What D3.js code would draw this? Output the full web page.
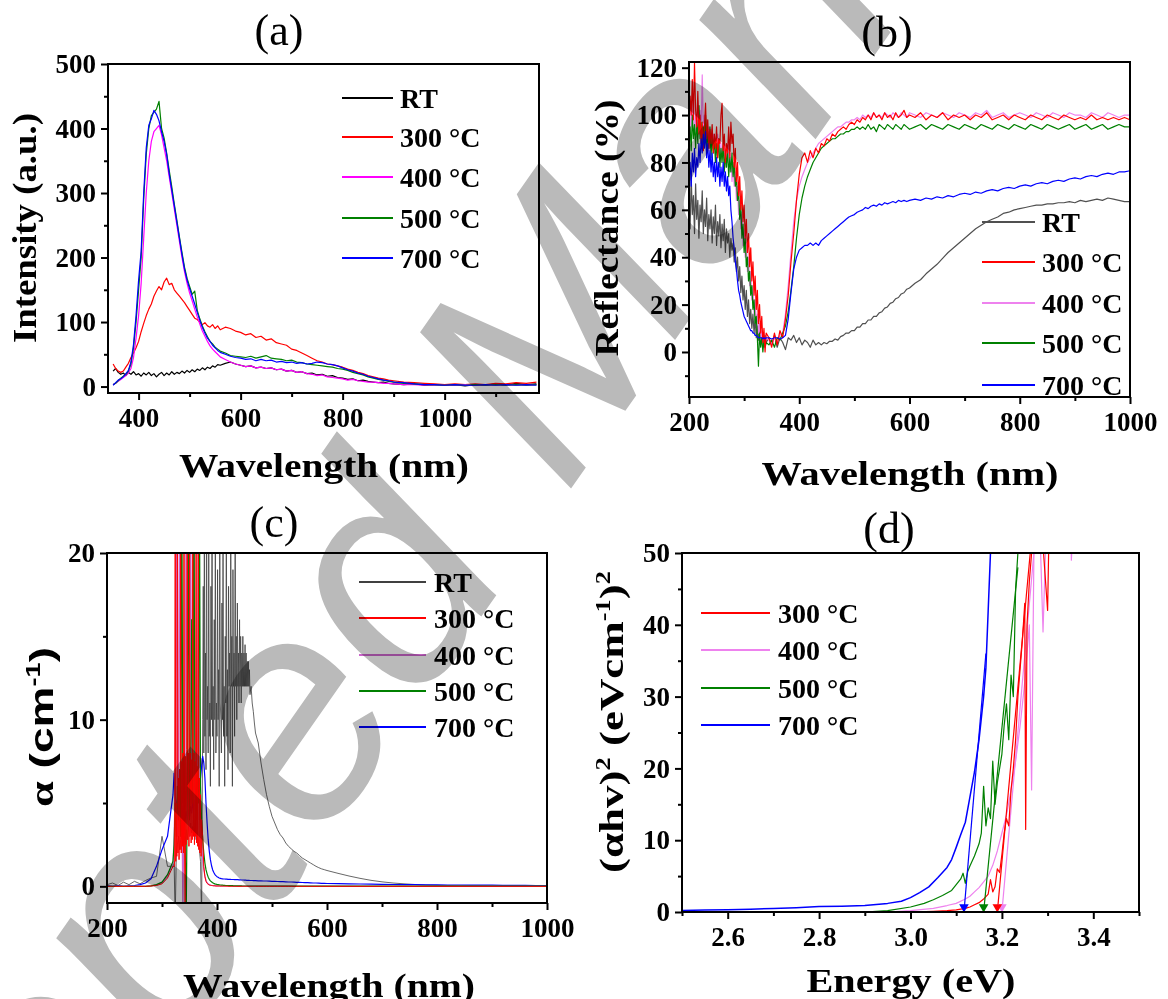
<!DOCTYPE html>
<html><head><meta charset="utf-8">
<script src="https://cdn.jsdelivr.net/npm/d3@7"></script>
<style>html,body{margin:0;padding:0;background:#fff}svg{display:block}</style>
</head><body>
<svg id="chart" width="1168" height="999"></svg>
<script>
// ---------------- DATA ----------------
const seriesNames = ["RT", "300 °C", "400 °C", "500 °C", "700 °C"];

// (a) photoluminescence
const wlA = [350,355,360,365,370,375,380,385,390,395,400,405,410,415,420,425,430,435,440,445,450,455,460,465,470,475,480,485,490,495,500,505,510,515,520,525,530,535,540,545,550,555,560,
570,580,590,600,610,620,630,640,650,660,670,680,690,700,710,720,730,740,750,760,770,780,790,800,810,820,830,840,850,860,870,880,890,900,
920,940,960,980,1000,1020,1040,1060,1080,1100,1120,1140,1160,1180];
const plRT = [24,28,22,19,21,17,22,19,23,18,20,16,21,18,22,17,20,15,19,22,17,21,18,23,19,22,20,24,21,25,22,26,23,27,25,29,26,30,28,32,30,34,33,
36,38,35,33,31,32,29,30,28,29,26,27,24,25,22,23,20,21,18,19,16,17,14,13,11,12,9,10,8,7,6,7,5,4,
3,4,2,3,2,3,1,3,2,4,2,5,3,4];
const pl300 = [35,28,24,22,24,30,36,45,52,60,70,85,98,110,120,128,140,148,155,150,162,168,158,160,150,145,140,135,130,124,118,112,106,104,100,96,99,94,92,96,90,94,88,
92,90,86,84,80,82,76,78,72,74,68,66,64,58,56,52,48,44,40,38,35,34,32,30,27,25,22,20,17,15,13,12,10,9,
7,6,5,4,3,4,3,4,3,5,4,6,5,7];
const pl400 = [3,5,8,11,14,17,21,28,45,75,110,160,230,300,350,380,395,400,405,390,370,350,325,300,275,250,225,200,178,160,145,133,120,108,97,86,78,70,63,58,54,50,46,
42,38,35,33,31,32,29,30,28,29,26,27,24,25,22,23,20,19,17,18,15,14,13,12,10,11,9,8,7,7,6,5,5,4,
3,3,2,3,2,2,3,2,2,3,2,3,2,3];
const pl500 = [3,5,9,13,16,19,24,35,60,100,150,200,290,360,400,420,425,430,442,400,385,362,335,310,283,258,232,208,185,168,155,143,148,118,105,94,85,77,70,66,61,58,55,
52,48,47,46,45,47,44,46,48,44,43,42,40,41,38,37,35,34,33,32,31,30,28,27,25,22,20,18,15,13,11,10,8,7,
5,4,3,3,2,3,2,3,2,3,2,3,2,3];
const pl700 = [2,6,10,12,15,20,25,38,65,110,165,210,300,370,405,415,428,422,412,395,380,360,330,305,280,255,230,205,182,165,152,140,128,115,103,92,83,75,70,64,60,56,53,
50,47,45,44,42,43,40,42,40,41,38,39,37,38,36,37,35,36,38,37,35,34,32,29,26,24,21,19,16,14,12,10,9,7,
6,4,3,3,2,3,2,2,3,2,3,2,3,2];
const ticksAx = [400,600,800,1000], ticksAxMinor = [500,700,900,1100];
const ticksAy = [0,100,200,300,400,500], ticksAyMinor = [50,150,250,350,450];

// (b) reflectance
const wlB1 = [200,202,204,206,208,210,212,214,216,218,220,222,224,226,228,230,232,234,236,238,240,242,244,246,248,250,252,254,256,258,
260,262,264,266,268,270,272,274,276,278,280,282,284,286,288,290,292,294,296,298,300,302,304,306,308,310,312,314,316,318,320,322,324,326,328,330,332,334,336,338,340];
const wlB2 = [345,350,355,360,365,370,375,380,385,390,395,400,405,410,415,420,425,430,435,440,445,450,455,460,465,470,475,480,485,490,
495,500,505,510,515,520,525,530,535,540,545,550,555,560,565,570,575,580,585,590,595,600];
const wlB3 = [610,620,630,640,650,660,670,680,690,700,710,720,730,740,750,760,770,780,790,800,810,820,830,840,850,860,870,880,890,900,
910,920,930,940,950,960,970,980,990,1000];
const rfRT = [70,52,74,58,66,50,71,56,64,48,62,55,68,50,60,53,65,47,58,52,60,46,57,50,62,45,55,49,58,44,
54,47,56,42,52,46,50,40,48,43,46,38,44,34,40,30,36,25,32,22,28,18,26,15,22,12,18,10,16,8,14,6,11,5,9,4,8,5,2,7,4,
6,3,7,2,6,4,1,6,5,7,4,6,3,5,4,2,5,3,4,3,4,3.5,4.5,4.5,5.5,5,6.5,7,8,8,9,9,10.5,10.5,12,12,13.5,13.5,15,15,16.5,17,18.5,19,20.5,21,22.5,23,24.5,25,26.5,27,
29,30.5,33,35,37,39.5,42,44,46,48,50,52,53.5,55,56,57,58.5,59,60,60.5,61,61.5,62,62,62.5,62.5,63,63,63.5,63,64,63.5,64,64.5,64,65,64.5,64,63.5,63.5];
const rf300 = [95,108,100,115,98,122,102,95,110,92,100,88,97,85,95,105,90,98,86,94,88,96,84,92,86,95,82,90,88,100,
105,85,92,80,88,84,95,82,97,88,92,78,86,72,80,66,74,60,68,55,62,48,56,42,50,36,44,30,38,24,32,18,26,12,20,8,15,4,10,0,8,
6,2,8,3,9,6,14,24,38,50,64,75,82,84,80,85,82,86,84,88,87,90,89,92,91,93,94,95,94,96,97,96,98,97,99,98,100,98,101,99,100,98,101,99,100,98,101,99,100,102,99,100,
99,101,98,100,99,101,98,100,99,100,98,100,99,101,98,99,100,98,100,99,98,100,99,98,100,99,98,100,99,98,99,98,100,98,99,98,99,98,99,98];
const rf400 = [100,92,104,95,108,90,100,94,106,96,102,92,117,95,100,90,98,88,95,85,94,86,92,84,90,82,92,85,90,80,
88,82,90,78,86,80,88,76,84,72,80,70,76,64,70,58,64,52,58,45,52,40,46,34,40,28,34,22,28,16,22,12,16,8,12,5,9,3,7,4,6,
5,3,6,4,7,8,16,28,42,55,64,70,74,77,80,82,84,86,88,89,90,91,92,93,94,95,95,96,97,97,98,98,99,98,100,99,100,99,101,99,100,99,101,100,99,101,100,99,101,100,99,101,
100,99,101,100,99,101,100,99,101,100,99,101,100,102,99,100,101,99,100,101,100,99,101,100,99,101,100,99,101,100,100,99,101,100,99,101,100,99,100,100];
const rf500 = [88,95,85,100,90,96,86,98,88,104,90,97,86,95,88,100,84,93,86,95,82,92,84,90,80,88,82,90,78,86,
80,88,76,84,78,86,74,82,76,84,74,80,70,74,64,68,56,62,48,54,42,48,36,40,30,34,24,28,18,22,12,15,6,-6,8,2,6,0,5,2,4,
3,5,2,6,5,8,11,17,26,36,48,58,65,70,74,77,80,82,84,86,87,88,89,90,90,91,92,92,93,93,94,94,95,94,95,94,96,94,95,93,96,95,94,96,95,94,96,95,94,96,95,94,
95,96,94,96,95,94,96,95,94,96,95,94,96,95,94,96,95,94,96,95,94,96,95,94,96,95,94,95,96,94,95,96,94,95,96,94,95,96,95,95];
const rf700 = [72,80,70,84,76,86,74,82,78,88,80,90,84,92,86,93,82,88,78,85,76,84,74,80,72,82,74,80,70,78,
72,80,70,76,68,74,66,70,60,55,48,44,38,35,30,26,24,21,19,17,15,14,13,12,11,10,9,9,8,8,7,7,6.5,6,6,6,6,5.5,6,5.5,6,
6,5.5,6,6,5.5,6,7,14,25,35,40,43,44,45,45,46,45,46,45,47,48,49,50,51,52,53,54,55,56,57,57.5,58,59,59.5,60,61,60.5,61.5,62,61.5,62.5,62,63,62.5,63,63.5,63,64,63.5,64,63.5,64,
64.5,64,65,64.5,65.5,65,66,65.5,66.5,67,66.5,67.5,67,68,68.5,68,69,69.5,69,70,70.5,70,71,71.5,71,72,72.5,72,73,73.5,73,74,74.5,74,75,75.5,75,76,76,76.5];
const ticksBx = [200,400,600,800,1000], ticksBxMinor = [300,500,700,900];
const ticksBy = [0,20,40,60,80,100,120], ticksByMinor = [-10,10,30,50,70,90,110];

// (c) absorption coefficient
const wlC1 = [200,210,220,230,240,250,260,270,280,290,300,310,320];
const wlC2 = [322,324,326,328,330,332,334,336,338,340,342,344,346,348,350,352,354,356,358,360,362,364,366,368,370,372,374,376,378,380,
382,384,386,388,390,392,394,396,398,400,402,404,406,408,410,412,414,416,418,420,422,424,426,428,430,432,434,436,438,440,
442,444,446,448,450,452,454,456,458,460,462,464,466,468,470];
const wlC2a = [322,324,326,328,330,332,334,336,338,340,342,344,346,348,350,352,354,356,358,360,362,364,366,368,370,372];
const wlCband = [373,374,375,376,377,378,379,380,381,382,383,384,385,386,387,388,389,390,391,392,393,394,395,396,397,398,399,400,401,402,
403,404,405,406,407,408,409,410,411,412,413,414,415,416,417,418,419,420,421,422,423,424,425,426,427,428,429,430,431,432,
433,434,435,436,437,438,439,440,441,442,443,444,445,446,447,448,449,450,451,452,453,454,455,456,457,458,459,460];
const wlC2c = [462,464,466,468,470];
const wlCfine = [323,324,325,326,327,328,329,330,331,332,333,334,335,336,337,338,339,340,341,342,343,344,345,346,347,348,349,350,351,352,
353,354,355,356,357,358,359,360,361,362,363,364,365,366,367,368,369,370,371,372];
const wlC2b = [374,376,378,380,382,384,386,388,390,392,394,396,398,400,402,404,406,408,410,412,414,416,418,420,422,424,426,428,430,432,
434,436,438,440,442,444,446,448,450,452,454,456,458,460,462,464,466,468,470];
const wlC3 = [475,480,485,490,495,500,505,510,515,520,525,530,535,540,545,550,555,560,565,570,575,580,585,590,595,600];
const wlC4 = [620,640,660,680,700,720,740,760,780,800,820,840,860,880,900,920,940,960,980,1000];
const abRT = [0.1,0.2,0.05,0.25,0.1,0.3,0.15,0.35,0.5,0.6,3.0,1.2,1.2,
1.5,-2,2,2.5,3,2.2,2.8,3.2,2.5,3,2.6,3.4,2.8,3.6,3,3.8,3.2,3.6,3,3.4,2.8,3.2,2.6,2.2,1.5,-2,
4,10,18,8,22,9,14,7,24,10,12,8,21,9,11,6,18,10,25,9,12,7,16,10,22,8,11,9,19,10,
13,6,24,11,10,8,17,10,21,9,12,6,15,11,23,9,13,7,18,12,14,8,22,12,15,6,19,12,14,9,
24,12,15,10,17,12,14,11,16,12,15,11,14,12,15,12,14,12,14.5,12,14,12,13.5,12,13.5,12,13,11.5,
12,11,10.5,9.8,9.2,
8.6,7.4,6.4,5.5,4.8,4.2,3.8,3.4,3.1,2.9,2.6,2.4,2.25,2.1,2.0,1.85,1.7,1.6,1.5,1.4,1.3,1.2,1.12,1.05,1.0,0.95,
0.78,0.62,0.48,0.36,0.27,0.2,0.15,0.11,0.08,0.06,0.05,0.04,0.03,0.03,0.02,0.02,0.02,0.01,0.01,0.01];
const ab300 = [0,0,0,0,0,0,0,0,0.02,0.05,0.15,0.5,1.2,
1.2,25,1.5,5,1.8,25,2,6.5,1.6,7,2.2,25,2,7.5,2.4,8,2,25,2.6,-2,7.8,2.5,8.2,25,2.8,8,2.4,25,3,8,
2.6,7.6,2.8,25,3,8,2.5,7.5,3,25,2.6,7.2,2.4,25,2.2,6.5,2,5.5,1.8,4,
3,1.2,0.6,0.3,0.18,0.12,0.08,0.06,0.05,0.04,0.03,0.03,0.02,0.02,0.02,0.02,0.01,0.01,0.01,0.01,0.01,0.01,0.01,0.01,
0,0,0,0,0,0,0,0,0,0,0,0,0,0,0,0,0,0,0,0,0,0,0,0,0,
0,0,0,0,0,0,0,0,0,0,0,0,0,0,0,0,0,0,0,0,0,0,0,0,0,0,
0,0,0,0,0,0,0,0,0,0,0,0,0,0,0,0,0,0,0,0];
const ab400 = [0,0,0,0,0,0,0,0,0.03,0.08,0.2,0.6,1.4,
3,6,25,3,7,25,3,6,-2,5,8,25,4,7,3,25,5,8,25,4,6,3,25,4,5,2.5,1.6,1.0,0.6,0.35,
0.22,0.15,0.1,0.08,0.06,0.05,0.04,0.04,0.03,0.03,0.03,0.02,0.02,0.02,0.02,0.02,0.02,0.02,0.02,0.02,
0.02,0.02,0.02,0.01,0.01,0.01,0.01,0.01,0.01,0.01,0.01,0.01,0.01,0.01,0.01,0.01,0.01,0.01,0.01,0.01,0.01,0.01,0.01,0.01,0.01,
0.01,0.01,0.01,0.01,0.01,0.01,0.01,0.01,0.01,0.01,0.01,0.01,0.01,0,0,0,0,0,0,0,0,0,0,0,0,0,
0,0,0,0,0,0,0,0,0,0,0,0,0,0,0,0,0,0,0,0];
const ab500 = [0,0,0,0,0,0,0,0,0.03,0.1,0.25,0.7,1.5,
2.5,5,3,6,4,7,3,25,5,8,3,-2,6,25,4,7,16,5,25,6,4,7,5,25,6,4,2.8,2,1.4,1,
0.75,0.55,0.42,0.33,0.27,0.22,0.18,0.15,0.13,0.11,0.1,0.09,0.08,0.07,0.07,0.06,0.06,0.05,0.05,0.05,
0.04,0.04,0.04,0.04,0.03,0.03,0.03,0.03,0.03,0.03,0.03,0.03,0.02,0.02,0.02,0.02,0.02,0.02,0.02,0.02,0.02,0.02,0.02,0.02,0.02,
0.02,0.02,0.02,0.02,0.02,0.02,0.02,0.02,0.02,0.02,0.02,0.02,0.02,0.01,0.01,0.01,0.01,0.01,0.01,0.01,0.01,0.01,0.01,0.01,0.01,0.01,
0.01,0.01,0.01,0.01,0.01,0.01,0.01,0.01,0.01,0.01,0.01,0.01,0.01,0.01,0.01,0.01,0.01,0.01,0.01,0.01];
const ab700 = [0.05,0,0.05,0,0.03,0.05,0.1,0.2,0.45,1.2,2.2,3,5.5,
6.8,5.5,4.8,5.2,4.6,5,4.4,4.8,4.2,4.6,4,4.5,4.1,4.6,4.2,4.8,4.4,5,4.6,5.2,5,5.6,5.4,6,6.5,7.2,7.8,7.4,6.5,5,
3.8,2.8,2.1,1.6,1.25,1.0,0.85,0.72,0.64,0.58,0.54,0.5,0.48,0.46,0.45,0.44,0.44,0.43,0.43,0.42,
0.42,0.42,0.41,0.41,0.41,0.4,0.4,0.4,0.4,0.39,0.39,0.38,0.38,0.38,0.37,0.37,0.36,0.36,0.36,0.35,0.35,0.35,0.34,0.34,0.34,
0.33,0.33,0.32,0.32,0.31,0.3,0.3,0.29,0.28,0.28,0.27,0.26,0.26,0.25,0.24,0.24,0.23,0.22,0.22,0.21,0.2,0.2,0.19,0.18,0.18,0.17,
0.16,0.15,0.14,0.13,0.12,0.11,0.1,0.1,0.09,0.09,0.08,0.08,0.07,0.07,0.07,0.06,0.06,0.06,0.05,0.05];
const ticksCx = [200,400,600,800,1000], ticksCxMinor = [300,500,700,900];
const ticksCy = [0,10,20], ticksCyMinor = [5,15];

// (d) Tauc plot
const tcE300 = [3.0,3.05,3.08,3.1,3.12,3.13,3.14,3.15,3.16,3.17,3.175,3.18,3.185,3.19,3.195,3.2,3.205,3.21,3.215,3.22,3.225,3.23,3.235,3.24,3.245,3.25,3.252,3.255,3.26,3.265,3.28,3.3,3.305];
const tcV300 = [0,0.1,0.2,0.3,0.5,0.7,1.0,1.3,1.8,2.5,4.5,2.8,3.5,6,5.5,8,11,13,12,17,20,24,30,34,38,43,11.5,40,46,50,60,42,60];
const tcE400 = [2.95,3.0,3.05,3.08,3.1,3.12,3.13,3.14,3.15,3.16,3.17,3.18,3.19,3.2,3.21,3.22,3.23,3.24,3.25,3.255,3.26,3.265,3.27,3.28,3.29,3.3,3.35,3.352,3.36];
const tcV400 = [0,0.2,0.5,0.9,1.2,1.8,2.2,2.8,3.4,4.2,5.0,6.5,8.5,11,13.5,17,21,26,32,36,40,17,50,60,39,60,60,49,60];
const tcE500 = [2.9,2.95,3.0,3.03,3.05,3.07,3.09,3.1,3.11,3.115,3.12,3.125,3.13,3.14,3.15,3.155,3.16,3.165,3.17,3.175,3.18,3.185,3.19,3.2,3.205,3.21,3.215,3.22,3.225,3.23,3.235];
const tcV500 = [0,0.2,0.7,1.2,1.7,2.3,3.0,3.8,4.6,5.4,4.0,5.6,6.4,7.8,9.5,11,17.5,12,14.5,13,21,15,18,22,26,29,24,33,30,45,50];
const tcE700 = [2.5,2.55,2.6,2.65,2.7,2.75,2.8,2.85,2.9,2.95,2.98,3.0,3.02,3.04,3.06,3.08,3.09,3.1,3.11,3.12,3.13,3.14,3.15,3.16,3.165,3.17,3.175];
const tcV700 = [0.2,0.28,0.32,0.4,0.5,0.6,0.75,0.8,0.9,1.2,1.5,2.0,2.7,3.5,4.8,6.2,7.3,9.0,10.8,12.5,16,19.5,24,30,34,42,50];
const fit300 = [[3.19,0],[3.262,50]];
const fit400 = [[3.2,0],[3.27,50]];
const fit500 = [[3.16,0],[3.235,48]];
const fit700 = [[3.117,0],[3.165,36]];
const ticksDx = [2.6,2.8,3.0,3.2,3.4], ticksDxMinor = [2.5,2.7,2.9,3.1,3.3,3.5];
const ticksDy = [0,10,20,30,40,50], ticksDyMinor = [5,15,25,35,45];

const watermarkText = "Accepted Manuscript";

// ---------------- DRAWING ----------------
const SERIF = "'Liberation Serif','Times New Roman',serif";
const SANS = "'Liberation Sans',Arial,sans-serif";
const svg = d3.select('#chart');
svg.append('rect').attr('width',1168).attr('height',999).attr('fill','#fff');

function zip(xs, ys){ const n=Math.min(xs.length, ys.length); const o=[]; for(let i=0;i<n;i++) o.push([xs[i], ys[i]]); return o; }

function panel(cfg){
  const g = svg.append('g');
  const x = d3.scaleLinear().domain(cfg.xdom).range([cfg.L, cfg.R]);
  const y = d3.scaleLinear().domain(cfg.ydom).range([cfg.B, cfg.T]);
  const cid = 'clip_'+cfg.id;
  svg.append('clipPath').attr('id',cid).append('rect')
    .attr('x',cfg.L).attr('y',cfg.T).attr('width',cfg.R-cfg.L).attr('height',cfg.B-cfg.T);
  const line = d3.line().x(d=>x(d[0])).y(d=>y(d[1]));
  const pg = g.append('g').attr('clip-path',`url(#${cid})`);
  cfg.series.forEach(s=>{
    pg.append('path').attr('d', line(s.pts)).attr('fill','none')
      .attr('stroke', s.color).attr('stroke-width', s.w||1.2).attr('stroke-linejoin','round');
  });
  if (cfg.after) cfg.after(pg, x, y);
  const styleAx = sel => {
    sel.attr('font-family',SERIF).attr('font-weight','bold').attr('font-size',27);
    sel.select('.domain').remove();
    sel.selectAll('.tick line').attr('stroke','#000').attr('stroke-width',2);
    sel.selectAll('.tick text').attr('fill','#000');
  };
  g.append('g').attr('transform',`translate(0,${cfg.B})`)
    .call(d3.axisBottom(x).tickValues(cfg.xMinor).tickSize(4).tickFormat('')).call(styleAx);
  g.append('g').attr('transform',`translate(0,${cfg.B})`)
    .call(d3.axisBottom(x).tickValues(cfg.xMajor).tickSize(7).tickPadding(8).tickFormat(cfg.xFmt)).call(styleAx);
  g.append('g').attr('transform',`translate(${cfg.L},0)`)
    .call(d3.axisLeft(y).tickValues(cfg.yMinor).tickSize(4).tickFormat('')).call(styleAx);
  g.append('g').attr('transform',`translate(${cfg.L},0)`)
    .call(d3.axisLeft(y).tickValues(cfg.yMajor).tickSize(7).tickPadding(5).tickFormat(d3.format('d'))).call(styleAx);
  g.append('rect').attr('x',cfg.L).attr('y',cfg.T).attr('width',cfg.R-cfg.L).attr('height',cfg.B-cfg.T)
    .attr('fill','none').attr('stroke','#000').attr('stroke-width',2);
  cfg.legend.items.forEach((it,i)=>{
    const ly = cfg.legend.ys[i];
    g.append('line').attr('x1',cfg.legend.x1).attr('x2',cfg.legend.x2).attr('y1',ly).attr('y2',ly)
      .attr('stroke',it.color).attr('stroke-width',2);
    g.append('text').attr('x',cfg.legend.tx).attr('y',ly+9.5).text(it.name)
      .attr('font-family',SERIF).attr('font-weight','bold').attr('font-size',28).attr('fill','#000');
  });
  g.append('text').attr('x',cfg.title.x).attr('y',cfg.title.y).attr('text-anchor','middle')
    .attr('font-family',SERIF).attr('font-size',44).attr('fill','#000').text(cfg.title.t);
  g.append('text').attr('x',cfg.xt.x).attr('y',cfg.xt.y).attr('text-anchor','middle')
    .attr('font-family',SERIF).attr('font-weight','bold').attr('font-size',34).attr('fill','#000')
    .attr('textLength',cfg.xt.len).attr('lengthAdjust','spacingAndGlyphs').text(cfg.xt.t);
  const yt = g.append('text').attr('transform',`translate(${cfg.yt.x},${cfg.yt.y}) rotate(-90)`)
    .attr('text-anchor','middle').attr('font-family',SERIF).attr('font-weight','bold')
    .attr('font-size',34).attr('fill','#000')
    .attr('textLength',cfg.yt.len).attr('lengthAdjust','spacingAndGlyphs');
  cfg.yt.parts.forEach(p=>{
    const ts = yt.append('tspan').text(p.t);
    if (p.sup) ts.attr('font-size',20).attr('dy',-13);
    if (p.down) ts.attr('dy',13);
    if (p.font) ts.attr('font-family',p.font);
  });
  return {x,y};
}

const colA = ['#000000','#ff0000','#ff00ff','#008000','#0000ff'];
const colB = ['#505050','#ff0000','#ee82ee','#008000','#0000ff'];
const colC = ['#404040','#ff0000','#cc66cc','#008000','#0000ff'];
const colD = ['#ff0000','#ee82ee','#008000','#0000ff'];

// (a)
panel({id:'a', L:108, R:539, T:64, B:393, xdom:[340,1185], ydom:[-10,500],
  xMajor:ticksAx, xMinor:ticksAxMinor, yMajor:ticksAy, yMinor:ticksAyMinor, xFmt:d3.format('d'),
  series:[
    {pts:zip(wlA,plRT), color:colA[0]},
    {pts:zip(wlA,pl300), color:colA[1]},
    {pts:zip(wlA,pl400), color:colA[2]},
    {pts:zip(wlA,pl500), color:colA[3]},
    {pts:zip(wlA,pl700), color:colA[4]}],
  legend:{x1:342,x2:393,tx:400, ys:[98,137,177,218,258],
    items:seriesNames.map((n,i)=>({name:n,color:colA[i]}))},
  title:{t:'(a)', x:279, y:45},
  xt:{t:'Wavelength (nm)', x:324, y:477, len:290},
  yt:{x:36, y:228, len:230, parts:[{t:'Intensity (a.u.)'}]}
});

// (b)
const wlB = wlB1.concat(wlB2, wlB3);
panel({id:'b', L:689, R:1130, T:62, B:397, xdom:[200,1000], ydom:[-19,122.4],
  xMajor:ticksBx, xMinor:ticksBxMinor, yMajor:ticksBy, yMinor:ticksByMinor, xFmt:d3.format('d'),
  series:[
    {pts:zip(wlB,rfRT), color:colB[0]},
    {pts:zip(wlB,rf400), color:colB[2]},
    {pts:zip(wlB,rf500), color:colB[3]},
    {pts:zip(wlB,rf300), color:colB[1]},
    {pts:zip(wlB,rf700), color:colB[4]}],
  legend:{x1:982,x2:1035,tx:1042, ys:[222,262,303,343,385],
    items:seriesNames.map((n,i)=>({name:n,color:colB[i]}))},
  title:{t:'(b)', x:887, y:47},
  xt:{t:'Wavelength (nm)', x:910, y:485, len:297},
  yt:{x:618, y:228, len:257, parts:[{t:'Reflectance (%)'}]}
});

// (c)
const wlC = wlC1.concat(wlC2, wlC3, wlC4);
const wlCrt = wlC1.concat(wlC2a, wlCband, wlC2c, wlC3, wlC4);
const wlC300 = wlC1.concat(wlCfine, wlC2b, wlC3, wlC4);
panel({id:'c', L:107, R:547, T:553, B:903, xdom:[200,1000], ydom:[-1,20],
  xMajor:ticksCx, xMinor:ticksCxMinor, yMajor:ticksCy, yMinor:ticksCyMinor, xFmt:d3.format('d'),
  series:[
    {pts:zip(wlCrt,abRT), color:colC[0], w:0.8},
    {pts:zip(wlC,ab700), color:colC[4]},
    {pts:zip(wlC,ab400), color:colC[2]},
    {pts:zip(wlC,ab500), color:colC[3]},
    {pts:zip(wlC300,ab300), color:colC[1], w:1.0}],
  legend:{x1:359,x2:426,tx:434, ys:[582,618,655,691,727],
    items:seriesNames.map((n,i)=>({name:n,color:colC[i]}))},
  title:{t:'(c)', x:274, y:537},
  xt:{t:'Wavelength (nm)', x:329, y:997, len:292},
  yt:{x:53, y:727, len:160, parts:[{t:'α'},{t:' (cm', font:SANS},{t:'-1', sup:true, font:SANS},{t:')', down:true, font:SANS}]}
});

// (d)
const namesD = seriesNames.slice(1);
panel({id:'d', L:682, R:1139, T:553, B:912, xdom:[2.5,3.5], ydom:[0,50],
  xMajor:ticksDx, xMinor:ticksDxMinor, yMajor:ticksDy, yMinor:ticksDyMinor, xFmt:d3.format('.1f'),
  series:[
    {pts:zip(tcE400,tcV400), color:colD[1]},
    {pts:fit400, color:colD[1]},
    {pts:zip(tcE300,tcV300), color:colD[0]},
    {pts:fit300, color:colD[0]},
    {pts:zip(tcE500,tcV500), color:colD[2]},
    {pts:fit500, color:colD[2]},
    {pts:zip(tcE700,tcV700), color:colD[3], w:1.5},
    {pts:fit700, color:colD[3]}],
  after:(pg,x,y)=>{
    [[fit400,colD[1]],[fit300,colD[0]],[fit500,colD[2]],[fit700,colD[3]]].forEach(([f,c])=>{
      pg.append('path').attr('d', d3.symbol(d3.symbolTriangle, 40)())
        .attr('transform',`translate(${x(f[0][0])},${y(f[0][1])-5}) rotate(180)`).attr('fill',c);
    });
  },
  legend:{x1:701,x2:770,tx:778, ys:[613,650,688,725],
    items:namesD.map((n,i)=>({name:n,color:colD[i]}))},
  title:{t:'(d)', x:889, y:543},
  xt:{t:'Energy (eV)', x:911, y:992, len:209},
  yt:{x:623, y:722, len:302, parts:[{t:'(αhv)'},{t:'2',sup:true},{t:' (eVcm',down:true},{t:'-1',sup:true},{t:')',down:true},{t:'2',sup:true}]}
});

// watermark
svg.append('text').text(watermarkText)
  .attr('transform','translate(605,440) rotate(-55)')
  .attr('text-anchor','middle')
  .attr('font-family',SANS).attr('font-style','italic').attr('font-size',310)
  .attr('fill','#bababa').style('mix-blend-mode','multiply');
</script>
</body></html>
